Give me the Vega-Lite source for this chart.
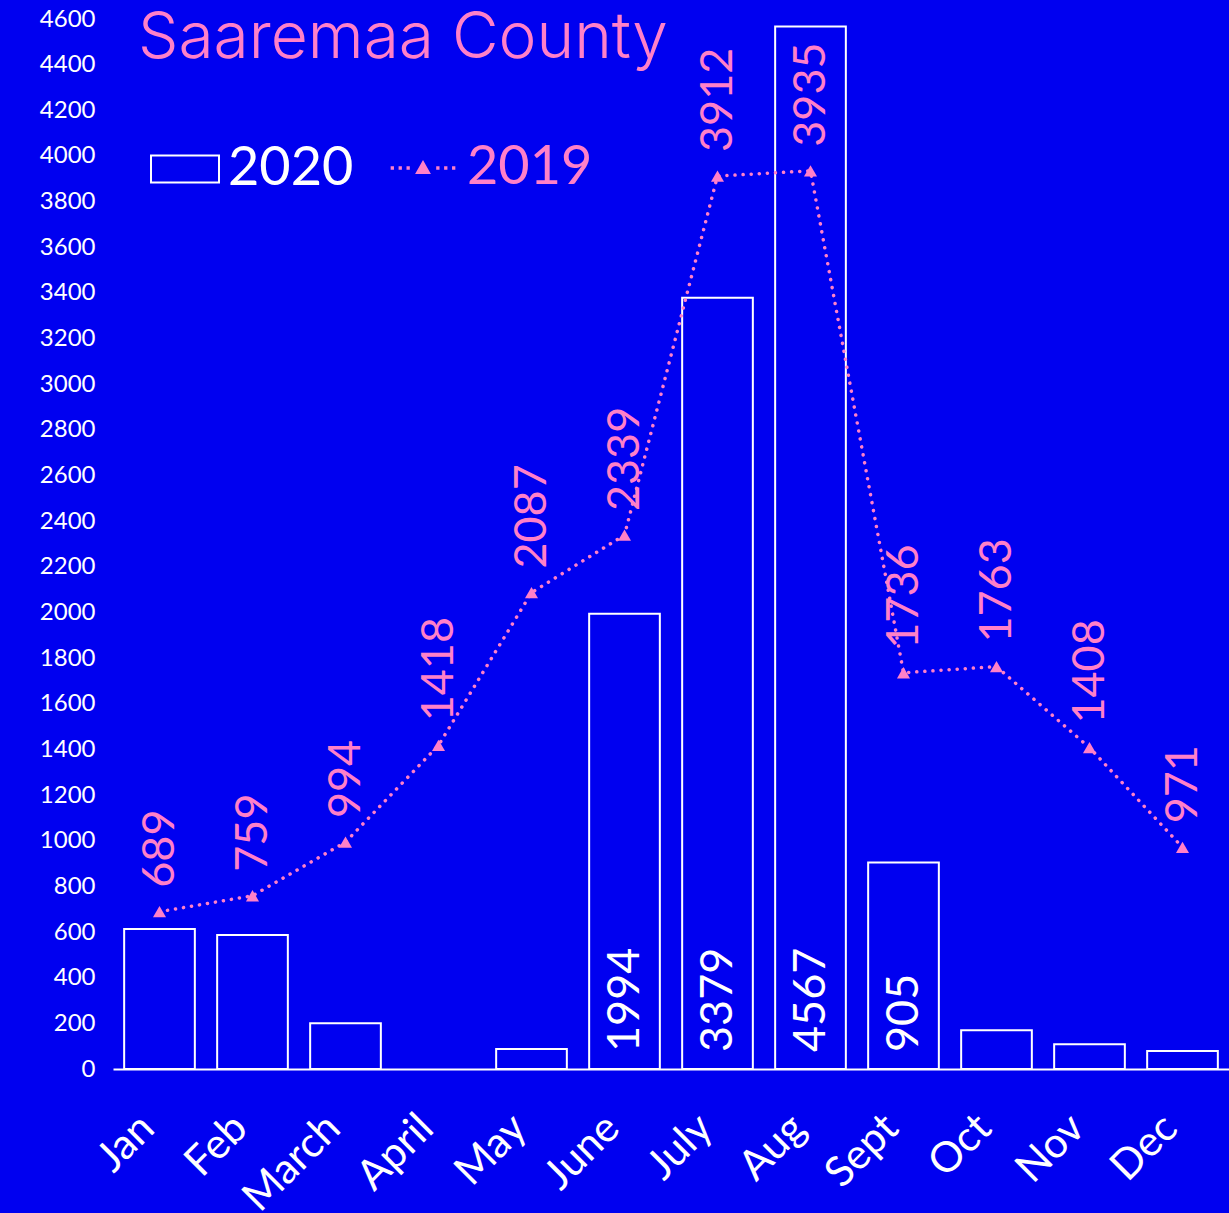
{
  "$schema": "https://vega.github.io/schema/vega-lite/v6.json",
  "autosize": "none",
  "width": 1116,
  "height": 1050,
  "padding": {"left": 113, "top": 19, "right": 0, "bottom": 144},
  "background": "#0000f0",
  "config": {
    "view": {"stroke": null},
    "font": "Lato",
    "axis": {"grid": false, "ticks": false, "labelColor": "white", "labelFont": "Lato", "titleColor": "white"}
  },
  "title": {
    "text": "Saaremaa County",
    "color": "#ff80c8",
    "font": "Inter",
    "fontWeight": 300,
    "fontSize": 64,
    "anchor": "start",
    "frame": "group",
    "orient": "top",
    "offset": -64,
    "dx": 25
  },
  "data": {
    "values": [
      {"month": "Jan", "v2020": 613, "v2019": 689},
      {"month": "Feb", "v2020": 587, "v2019": 759},
      {"month": "March", "v2020": 200, "v2019": 994},
      {"month": "April", "v2020": null, "v2019": 1418},
      {"month": "May", "v2020": 88, "v2019": 2087},
      {"month": "June", "v2020": 1994, "v2019": 2339},
      {"month": "July", "v2020": 3379, "v2019": 3912},
      {"month": "Aug", "v2020": 4567, "v2019": 3935},
      {"month": "Sept", "v2020": 905, "v2019": 1736},
      {"month": "Oct", "v2020": 170, "v2019": 1763},
      {"month": "Nov", "v2020": 108, "v2019": 1408},
      {"month": "Dec", "v2020": 79, "v2019": 971}
    ]
  },
  "encoding": {
    "x": {
      "field": "month",
      "type": "ordinal",
      "sort": null,
      "scale": {"domain": ["Jan", "Feb", "March", "April", "May", "June", "July", "Aug", "Sept", "Oct", "Nov", "Dec"], "paddingInner": 0.24, "paddingOuter": 0.12},
      "axis": {
        "title": null,
        "domainColor": "white",
        "domainWidth": 2,
        "labelAngle": -45,
        "labelAlign": "right",
        "labelBaseline": "middle",
        "labelFontSize": 42,
        "labelPadding": 52,
        "labelOffset": -12
      }
    }
  },
  "layer": [
    {
      "mark": {"type": "bar", "fill": "#0000f0", "strokeWidth": 2},
      "encoding": {
        "y": {
          "field": "v2020",
          "type": "quantitative",
          "scale": {"domain": [0, 4600], "nice": false},
          "axis": {
            "title": null,
            "domain": false,
            "format": "d",
            "labelFontSize": 24,
            "labelPadding": 18,
            "values": [0, 200, 400, 600, 800, 1000, 1200, 1400, 1600, 1800, 2000, 2200, 2400, 2600, 2800, 3000, 3200, 3400, 3600, 3800, 4000, 4200, 4400, 4600]
          }
        },
        "stroke": {
          "datum": "2020",
          "scale": {"domain": ["2020"], "range": ["white"]},
          "legend": {
            "title": null,
            "orient": "none",
            "legendX": 37,
            "legendY": 115,
            "symbolType": "M-1,-0.4H1V0.4H-1Z",
            "symbolSize": 4624,
            "symbolStrokeWidth": 2,
            "symbolFillColor": "#0000f0",
            "symbolStrokeColor": "white",
            "labelColor": "white",
            "labelFontSize": 54,
            "labelFont": "Lato",
            "labelOffset": 8
          }
        }
      }
    },
    {
      "transform": [{"filter": "datum.v2020 >= 900"}],
      "mark": {"type": "text", "angle": 270, "align": "left", "baseline": "middle", "dx": 17, "fontSize": 45, "color": "white", "font": "Lato"},
      "encoding": {
        "y": {"datum": 0, "type": "quantitative"},
        "text": {"field": "v2020", "type": "quantitative"}
      }
    },
    {
      "mark": {"type": "line", "strokeDash": [0.1, 8], "strokeCap": "round", "strokeWidth": 3.5},
      "encoding": {
        "y": {"field": "v2019", "type": "quantitative"},
        "color": {
          "datum": "2019",
          "scale": {"domain": ["2019"], "range": ["#ff80c8"]},
          "legend": {
            "title": null,
            "orient": "none",
            "legendX": 277,
            "legendY": 116,
            "symbolType": "M-0.98,-0.05h0.1v0.1h-0.1Z M-0.74,-0.05h0.1v0.1h-0.1Z M-0.5,-0.05h0.1v0.1h-0.1Z M0.4,-0.05h0.1v0.1h-0.1Z M0.64,-0.05h0.1v0.1h-0.1Z M0.88,-0.05h0.1v0.1h-0.1Z M-0.24,0.18L0,-0.24L0.24,0.18Z",
            "symbolSize": 4356,
            "symbolFillColor": "#ff80c8",
            "symbolStrokeWidth": 0,
            "labelColor": "#ff80c8",
            "labelFontSize": 54,
            "labelFont": "Lato",
            "labelOffset": 11
          }
        }
      }
    },
    {
      "mark": {"type": "point", "shape": "triangle-up", "filled": true, "size": 170, "opacity": 1},
      "encoding": {
        "y": {"field": "v2019", "type": "quantitative"},
        "color": {"datum": "2019"}
      }
    },
    {
      "mark": {"type": "text", "angle": 270, "align": "left", "baseline": "middle", "dx": 24, "fontSize": 45, "color": "#ff80c8", "font": "Lato"},
      "encoding": {
        "y": {"field": "v2019", "type": "quantitative"},
        "text": {"field": "v2019", "type": "quantitative"}
      }
    }
  ]
}
